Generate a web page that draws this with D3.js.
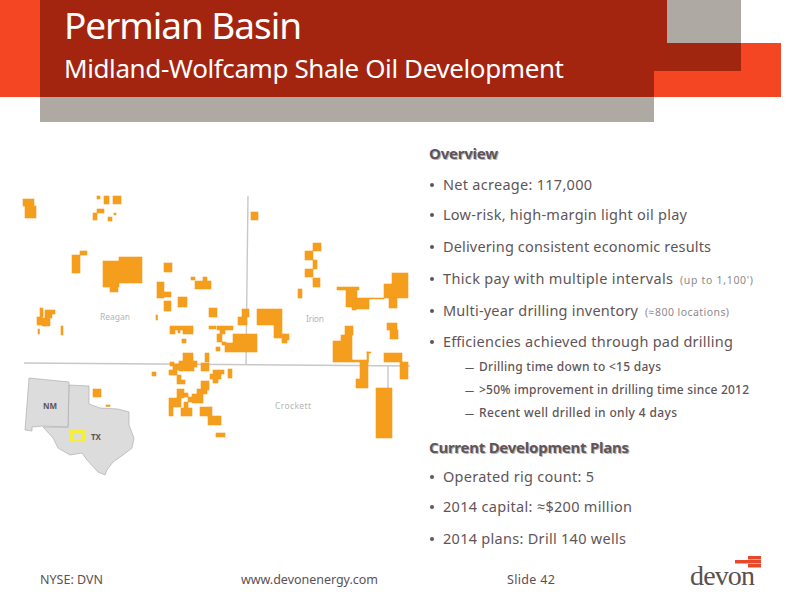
<!DOCTYPE html>
<html>
<head>
<meta charset="utf-8">
<title>Permian Basin</title>
<script src="https://cdn.jsdelivr.net/npm/d3@7/dist/d3.min.js"></script>
<style>
  body { margin: 0; background: #fff; }
  svg { display: block; }
  text { font-family: "Noto Sans", "Open Sans", sans-serif; }
</style>
</head>
<body>
<div id="chart-area"></div>
<script>
// slide text
var titleText = 'Permian Basin';
var subtitleText = 'Midland-Wolfcamp Shale Oil Development';
var overviewHead = 'Overview';
var overviewItems = ['Net acreage: 117,000', 'Low-risk, high-margin light oil play', 'Delivering consistent economic results',
  'Thick pay with multiple intervals', 'Multi-year drilling inventory', 'Efficiencies achieved through pad drilling'];
var overviewNotes = ['', '', '', "(up to 1,100')", '(≈800 locations)', ''];
var drillingItems = ['Drilling time down to <15 days', '>50% improvement in drilling time since 2012', 'Recent well drilled in only 4 days'];
var plansHead = 'Current Development Plans';
var plansItems = ['Operated rig count: 5', '2014 capital: ≈$200 million', '2014 plans: Drill 140 wells'];
var footerItems = ['NYSE: DVN', 'www.devonenergy.com', 'Slide 42'];
var countyNames = ['Reagan', 'Irion', 'Crockett'];

// acreage blocks: [x, y, w, h] in map units
var acreageReagan = [
  [3,9,11,7],[5,16,11,12],[77,6,3,3],[84,6,5,8],[93,6,8,8],[77,19,7,4],[73,23,4,7],[88,27,4,4],[94,23,2,2],
  [52,65,8,18],[60,61,7,4],[83,71,16,26],[99,67,23,26],[90,97,8,5],[144,73,8,9],[137,92,7,10],[137,102,14,5],
  [137,107,7,1],[144,111,7,10],[158,107,9,10],[171,87,4,3],[183,87,4,4],[175,91,16,8],
  [20,118,3,9],[17,127,5,8],[22,128,3,8],[25,120,5,16],[30,120,5,4],[30,124,2,4],[18,139,1.5,5],[41,136,2,9],[136,125,1.5,5],
  [150,136,23,4],[150,140,5,4],[158,140,2,3],[163,140,10,4],[162,149,4,4]
];
var acreageCrossing = [
  [163,163,10,9],[159,171,15,10],[150,172,4,4],[153,174,6,6],[174,171,3,6],[149,180,8,5],[157,185,4,5],[157,190,8,4],
  [185,163,4,9],[181,173,8,8],[193,180,11,4],[190,184,11,5],[193,189,5,4],[181,191,8,9],[208,179,4,9],[132,182,4,4],
  [157,199,7,9],[149,208,12,9],[149,217,4,9],[161,218,11,8],[164,215,4,3],[164,203,4,4],[168,207,4,5],[164,212,4,3],
  [172,204,11,9],[177,199,10,5],[180,217,12,9],[188,226,13,9],[196,243,9,4]
];
var acreageCentral = [
  [189,136,7,3],[197,136,16,4],[200,140,5,4],[197,144,5,8],[202,152,4,3],[196,157,4,4],[213,144,24,18],[205,153,8,9],
  [218,127,9,8],[222,119,7,8],[189,118,8,9],[237,119,25,16],[254,135,8,13],[262,144,7,6],[262,150,5,3],[231,22,7,8]
];
var acreageIrion = [
  [293,53,8,8],[285,61,8,9],[293,70,4,9],[285,79,8,8],[293,88,7,9],[278,99,4,9],[317,97,22,3],[326,100,11,17],
  [336,108,13,11],[332,117,4,3],[349,108,15,1],[364,94,8,14],[372,83,16,25],[369,108,8,10],
  [313,151,19,21],[321,145,11,6],[325,136,8,9],[332,170,16,2],[340,172,8,17],[336,189,12,9],[347,162,1.5,10],[347,162,4,1],
  [367,133,10,7],[370,140,8,9],[364,163,18,9],[380,172,8,17],[356,198,16,50]
];
var acreageInset = [[73,199,8,8],[86,215,4,1.5]];

// county lines and the inset outlines, map units
var countyLines = [
  [[4,173],[390,176]],
  [[228,6],[226,175]],
  [[368,175],[368,198]]
];
var newMexico = [[9,188],[49,192],[48,237],[23,236],[12,237],[12,241],[5,240]];
var texas = [[49,195],[69,196],[69,214],[80,218],[98,219],[109,222],[109,235],[114,248],[112,258],[103,265],[93,272],
  [87,280],[85,285],[78,282],[67,270],[62,263],[50,265],[38,258],[33,248],[23,237],[48,237]];
var studyArea = [51.5,241.5,12,9];

var svg = d3.select('#chart-area').append('svg')
  .attr('width', 800)
  .attr('height', 600);

var x = d3.scaleLinear().domain([0, 400]).range([20, 420]);
var y = d3.scaleLinear().domain([0, 290]).range([190, 480]);
var pathLine = d3.line().x(function(d){ return x(d[0]); }).y(function(d){ return y(d[1]); });

var softBlur = svg.append('defs').append('filter').attr('id', 'soft');
softBlur.append('feGaussianBlur').attr('stdDeviation', 0.3);

// header bands
var bands = [
  [0,0,40,97,'#f54623'],[654,43,127,54,'#f54623'],
  [40,97,614,25,'#aea9a2'],[667,0,74,43,'#aea9a2'],
  [40,0,614,97,'#a3240f'],[654,0,13,71,'#a3240f'],[667,43,74,28,'#a0260f']
];
svg.append('g').selectAll('rect').data(bands).enter().append('rect')
  .attr('x', function(d){ return d[0]; })
  .attr('y', function(d){ return d[1]; })
  .attr('width', function(d){ return d[2]; })
  .attr('height', function(d){ return d[3]; })
  .attr('fill', function(d){ return d[4]; });

function label(g, txt, px, py, size, fill, width, weight) {
  var t = g.append('text')
    .attr('x', px)
    .attr('y', py)
    .attr('font-size', size + 'px')
    .attr('fill', fill)
    .text(txt);
  if (width) t.attr('textLength', width).attr('lengthAdjust', 'spacing');
  if (weight) t.attr('font-weight', weight);
  return t;
}

label(svg, titleText, 64, 39, 37, '#fff', 238);
label(svg, subtitleText, 64, 78, 26, '#fff', 500);

// map
var map = svg.append('g').attr('filter', 'url(#soft)');

map.selectAll('.county').data(countyLines).enter().append('path')
  .attr('class', 'county')
  .attr('d', pathLine)
  .attr('fill', 'none')
  .attr('stroke', '#c8c8c8')
  .attr('stroke-width', 1.4);

map.selectAll('.state').data([texas, newMexico]).enter().append('path')
  .attr('class', 'state')
  .attr('d', function(d){ return pathLine(d) + 'Z'; })
  .attr('fill', '#dcdcdc')
  .attr('stroke', '#a5a5a5')
  .attr('stroke-width', 0.6);

map.append('rect')
  .attr('x', x(studyArea[0]))
  .attr('y', y(studyArea[1]))
  .attr('width', x(studyArea[0] + studyArea[2]) - x(studyArea[0]))
  .attr('height', y(studyArea[1] + studyArea[3]) - y(studyArea[1]))
  .attr('fill', 'none')
  .attr('stroke', '#f6ee3c')
  .attr('stroke-width', 3);

var acreage = acreageReagan.concat(acreageCrossing, acreageCentral, acreageIrion, acreageInset);
map.selectAll('.block').data(acreage).enter().append('rect')
  .attr('class', 'block')
  .attr('x', function(d){ return x(d[0]); })
  .attr('y', function(d){ return y(d[1]); })
  .attr('width', function(d){ return x(d[0] + d[2]) - x(d[0]); })
  .attr('height', function(d){ return y(d[1] + d[3]) - y(d[1]); })
  .attr('fill', '#f59d1b')
  .attr('stroke', '#f59d1b')
  .attr('stroke-width', 0.6);

label(svg, countyNames[0], 100, 320, 8.5, '#b5b5b5', 30);
label(svg, countyNames[1], 306, 322, 8.5, '#b5b5b5', 18);
label(svg, countyNames[2], 275, 409, 8.5, '#b5b5b5', 36);
label(svg, 'NM', 43, 409, 8, '#5c5558', 0, 700);
label(svg, 'TX', 91, 440, 8, '#5c5558', 0, 700);

// right hand text column
var textColor = '#5f5558';
var textBlock = svg.append('g');

function heading(txt, py, width) {
  label(textBlock, txt, 430, py + 1, 15, '#b9b4b4', width, 700);
  label(textBlock, txt, 429, py, 15, textColor, width, 700);
}

function bullet(py) {
  textBlock.append('circle')
    .attr('cx', 432)
    .attr('cy', py - 5)
    .attr('r', 2)
    .attr('fill', textColor);
}

var overviewBase = [190, 220, 252, 284, 316, 347];
var overviewWidth = [149, 244, 268, 230, 195, 290];
var noteStart = [0, 0, 0, 680, 645, 0];
var noteWidth = [0, 0, 0, 73, 84, 0];

heading(overviewHead, 159, 69);
overviewItems.forEach(function(d, i){
  bullet(overviewBase[i]);
  label(textBlock, d, 443, overviewBase[i], 14.5, textColor, overviewWidth[i]);
  if (overviewNotes[i]) {
    label(textBlock, overviewNotes[i], noteStart[i], overviewBase[i], 10.5, '#8f8a8c', noteWidth[i]);
  }
});

var drillingBase = [371, 394, 417];
var drillingWidth = [182, 270, 198];
drillingItems.forEach(function(d, i){
  label(textBlock, '—', 465, drillingBase[i], 9, textColor, 0, 600);
  label(textBlock, d, 479, drillingBase[i], 12, textColor, drillingWidth[i], 500);
});

var plansBase = [482, 512, 544];
var plansWidth = [151, 189, 183];
heading(plansHead, 453, 200);
plansItems.forEach(function(d, i){
  bullet(plansBase[i]);
  label(textBlock, d, 443, plansBase[i], 14.5, textColor, plansWidth[i]);
});

// footer
var footerStart = [40, 241, 507];
var footerWidth = [63, 137, 48];
footerItems.forEach(function(d, i){
  label(svg, d, footerStart[i], 584, 12.5, '#5a5154', footerWidth[i]);
});

// logo
var logoBars = [[748,556,13,3.5],[735,560,26,3.5],[748,564,13,3.5]];
svg.append('g').selectAll('rect').data(logoBars).enter().append('rect')
  .attr('x', function(d){ return d[0]; })
  .attr('y', function(d){ return d[1]; })
  .attr('width', function(d){ return d[2]; })
  .attr('height', function(d){ return d[3]; })
  .attr('fill', '#e8482a');
label(svg, 'devon', 690, 585, 28, '#5b4f50', 65).style('font-family', '"Liberation Serif", serif');
</script>
</body>
</html>
